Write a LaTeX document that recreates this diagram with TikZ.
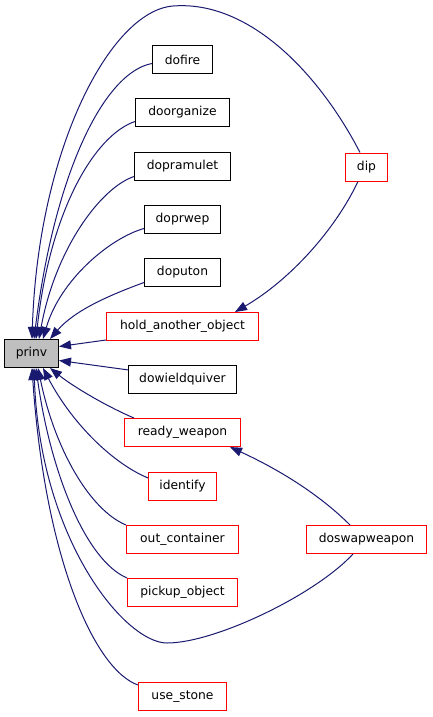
\documentclass[tikz,border=0pt]{standalone}
\usepackage{fontspec}
\setmainfont{DejaVu Sans}
\usepackage{tikz}
\usetikzlibrary{arrows.meta}
\usepackage{xcolor}
\definecolor{edgeblue}{HTML}{191970}
\definecolor{rootgray}{HTML}{BFBFBF}

\begin{document}
\begin{tikzpicture}[x=1pt, y=-1pt,
    fn/.style={draw, line width=1pt, minimum height=28pt, inner xsep=10pt, font=\fontsize{12.3pt}{14pt}\selectfont},
    ext/.style={fn, color=red, draw=red, text=black},
    root/.style={fn, fill=rootgray},
    call/.style={-{Triangle[length=12pt, width=9pt]}, line width=1pt, color=edgeblue},
]
\useasboundingbox (0,0) rectangle (432,717);

\node[root, minimum width=54pt] (prinv) at (31.5, 353.5) {prinv};
\node[fn, minimum width=60pt] (dofire) at (182.5, 59.5) {dofire};
\node[fn, minimum width=94pt] (doorganize) at (182.5, 112.5) {doorganize};
\node[fn, minimum width=96pt] (dopramulet) at (182.5, 166.5) {dopramulet};
\node[fn, minimum width=76pt] (doprwep) at (182.5, 219.5) {doprwep};
\node[fn, minimum width=76pt] (doputon) at (182.5, 272.5) {doputon};
\node[ext, minimum width=152pt] (hold) at (182.5, 326.5) {hold\_another\_object};
\node[fn, minimum width=108pt] (dowield) at (182.5, 379.5) {dowieldquiver};
\node[ext, minimum width=116pt] (ready) at (182.5, 432.5) {ready\_weapon};
\node[ext, minimum width=68pt] (identify) at (182.5, 486.5) {identify};
\node[ext, minimum width=112pt] (outc) at (182.5, 539.5) {out\_container};
\node[ext, minimum width=110pt] (pickup) at (182.5, 592.5) {pickup\_object};
\node[ext, minimum width=88pt] (usestone) at (182.5, 696.5) {use\_stone};
\node[ext, minimum width=42pt] (dip) at (366.5, 167) {dip};
\node[ext, minimum width=120pt] (doswap) at (366.5, 539.5) {doswapweapon};

\draw[call] ([xshift=-6.5pt]dip.north) .. controls (320,75) and (250,0) .. (173,6)
    .. controls (110,11) and (38,150) .. ([xshift=0.5pt]prinv.north);
\draw[call] ([xshift=-8.5pt]dip.south) .. controls (335,230) and (290,280) .. ([xshift=52.5pt]hold.north);
\draw[call] ([yshift=-4pt]dofire.west) .. controls (105,72) and (55,170) .. ([xshift=2.5pt]prinv.north);
\draw[call] ([yshift=-9pt]doorganize.west) .. controls (95,135) and (50,210) .. ([xshift=4.5pt]prinv.north);
\draw[call] ([yshift=-10pt]dopramulet.west) .. controls (100,188) and (55,250) .. ([xshift=7.5pt]prinv.north);
\draw[call] ([yshift=-9pt]doprwep.west) .. controls (110,238) and (60,280) .. ([xshift=11.5pt]prinv.north);
\draw[call] ([yshift=-10pt]doputon.west) .. controls (110,295) and (75,310) .. ([xshift=18.5pt]prinv.north);
\draw[call] ([yshift=1pt]hold.south west) -- ([yshift=7pt]prinv.east);
\draw[call] ([yshift=9.6pt]dowield.west) -- ([yshift=-7pt]prinv.east);
\draw[call] ([xshift=10pt]ready.north west) .. controls (110,408) and (75,388) .. ([xshift=18.5pt]prinv.south);
\draw[call] ([yshift=-6pt]identify.north west) .. controls (110,462) and (70,420) .. ([xshift=11.5pt]prinv.south);
\draw[call] (outc.north west) .. controls (90,510) and (55,450) .. ([xshift=6.5pt]prinv.south);
\draw[call] (pickup.north west) .. controls (85,560) and (50,470) .. ([xshift=4.5pt]prinv.south);
\draw[call] ([xshift=-13.5pt]doswap.south) .. controls (315,595) and (215,643) .. (167,643)
    .. controls (125,643) and (40,540) .. ([xshift=2.5pt]prinv.south);
\draw[call] ([xshift=-16.5pt]doswap.north) .. controls (320,495) and (280,470) .. ([xshift=47.5pt]ready.south);
\draw[call] ([yshift=-3pt]usestone.north west) .. controls (95,670) and (45,560) .. ([xshift=0.5pt]prinv.south);

\end{tikzpicture}
\end{document}
